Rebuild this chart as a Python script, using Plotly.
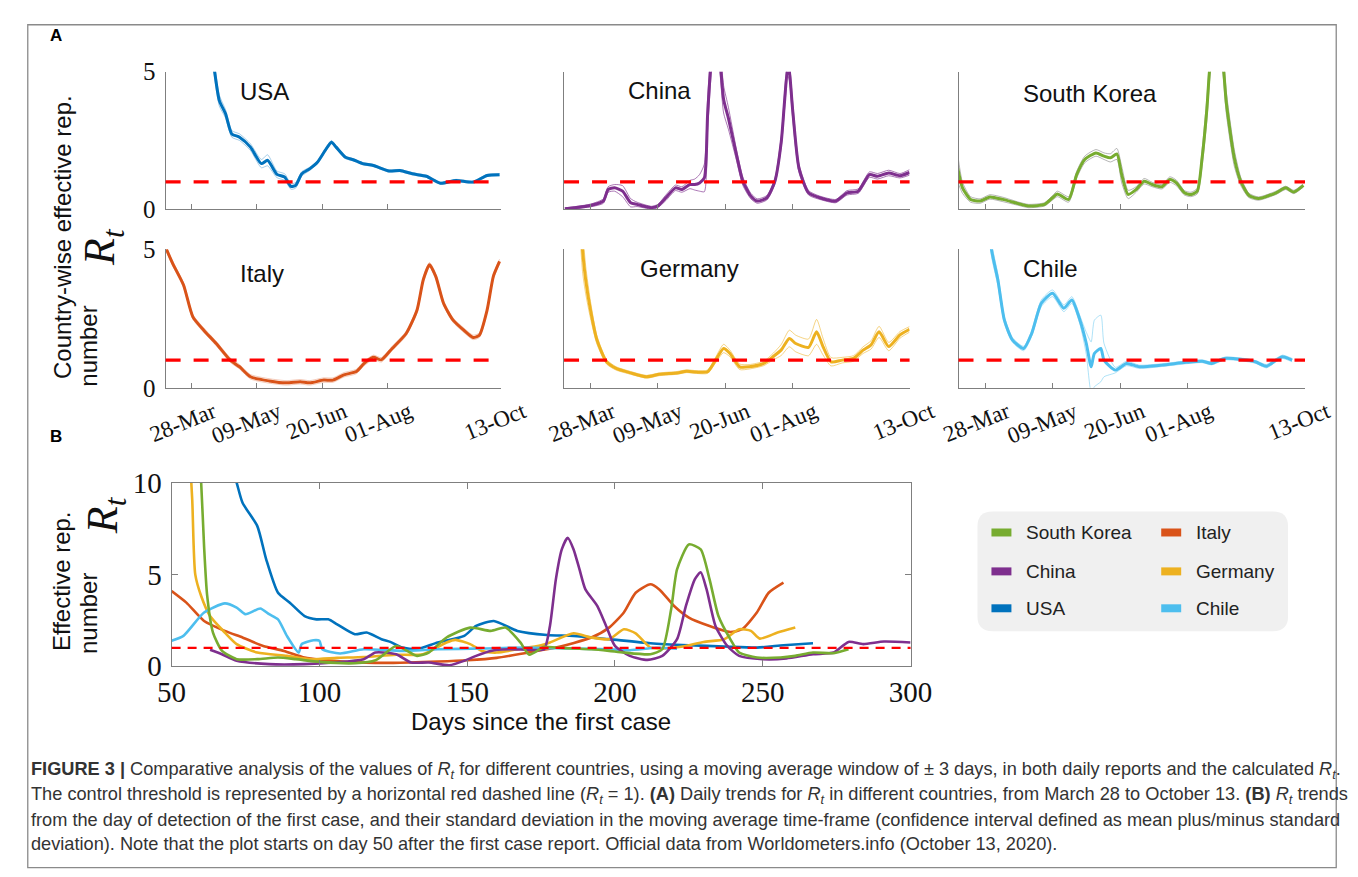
import pandas as pd
import plotly.graph_objects as go

W, H = 1358, 877
START = pd.Timestamp("2020-03-28")
THRESHOLD = 1.0

COLORS = {
    "USA": "#0072BD", "Italy": "#D95319", "Germany": "#EDB120",
    "China": "#7E2F8E", "South Korea": "#77AC30", "Chile": "#4DBEEE",
}
BAND = {
    "USA": "rgba(0,114,189,0.35)", "Italy": "rgba(217,83,25,0.30)",
    "Germany": "rgba(237,177,32,0.55)", "China": "rgba(126,47,142,0.65)",
    "South Korea": "rgba(120,120,120,0.55)", "Chile": "rgba(77,190,238,0.45)",
}

# ---------------- Panel A data (days after 28-Mar-2020) ----------------
usa_day = [12, 15, 18, 22, 26, 31, 38, 45, 49, 55, 60, 64, 67, 71, 76, 81, 86, 90, 93, 99,
           104, 110, 117, 127, 134, 142, 151, 160, 170, 181, 190, 198]
usa_rt = [6.5, 5.0, 3.95, 3.47, 2.74, 2.62, 2.26, 1.66, 1.78, 1.27, 1.17, 0.83, 0.87, 1.29, 1.47,
          1.71, 2.14, 2.44, 2.26, 1.89, 1.80, 1.66, 1.59, 1.39, 1.41, 1.29, 1.20, 0.95, 1.05, 0.99,
          1.23, 1.26]
usa_sd = [0.3, 0.25, 0.2, 0.15, 0.12, 0.12, 0.12, 0.15, 0.2, 0.12, 0.12, 0.1, 0.1, 0.08, 0.06,
          0.05, 0.06, 0.06, 0.06, 0.05, 0.04, 0.04, 0.04, 0.04, 0.04, 0.04, 0.04, 0.04, 0.04, 0.04,
          0.04, 0.04]

china_day = [-16, 0, 8, 11, 15, 20, 25, 29, 38, 42, 47, 53, 57, 62, 65, 68, 71, 73, 75, 78,
             81, 83, 86, 91, 95, 100, 104, 110, 115, 119, 121, 123, 124, 126, 130, 136, 143, 153,
             160, 167, 174, 179, 186, 193, 199]
china_rt = [0.02, 0.14, 0.30, 0.72, 0.78, 0.66, 0.24, 0.18, 0.06, 0.12, 0.42, 0.78, 0.72, 0.90,
            0.90, 0.96, 1.14, 3.40, 5.20, 7.00, 5.30, 4.00, 3.31, 1.99, 1.02, 0.48, 0.30, 0.42,
            1.02, 2.47, 3.90, 5.15, 5.00, 3.67, 1.50, 0.60, 0.42, 0.30, 0.60, 0.66, 1.26, 1.20,
            1.32, 1.22, 1.34]
china_sd = [0.03, 0.05, 0.08, 0.1, 0.12, 0.2, 0.15, 0.08, 0.05, 0.06, 0.1, 0.1, 0.1, 0.15, 0.2,
            0.3, 0.5, 0.6, 0.5, 0.5, 0.5, 0.5, 0.4, 0.2, 0.15, 0.1, 0.08, 0.08, 0.1, 0.2, 0.3,
            0.3, 0.3, 0.3, 0.15, 0.08, 0.06, 0.06, 0.08, 0.08, 0.1, 0.1, 0.1, 0.08, 0.1]

korea_day = [-17, -14, -9, -3, 3, 11, 21, 27, 37, 42, 45, 52, 57, 62, 69, 74, 78, 82, 85, 89,
             94, 99, 104, 110, 115, 119, 124, 128, 132, 135, 138, 140, 144, 148, 150, 155, 159,
             164, 170, 181, 187, 192, 198]
korea_rt = [1.50, 0.78, 0.36, 0.30, 0.45, 0.36, 0.20, 0.12, 0.18, 0.42, 0.56, 0.36, 1.26, 1.81,
            2.05, 1.93, 1.87, 2.01, 1.26, 0.54, 0.72, 1.02, 0.90, 0.82, 1.08, 0.96, 0.60, 0.54,
            0.66, 1.87, 3.67, 5.30, 6.70, 5.30, 3.90, 1.87, 1.02, 0.51, 0.39, 0.60, 0.78, 0.63,
            0.87]
korea_sd = [0.5, 0.2, 0.1, 0.08, 0.08, 0.08, 0.06, 0.06, 0.06, 0.08, 0.1, 0.1, 0.12, 0.12, 0.12,
            0.12, 0.15, 0.2, 0.3, 0.15, 0.1, 0.1, 0.08, 0.08, 0.1, 0.1, 0.08, 0.08, 0.1, 0.3, 0.4,
            0.4, 0.4, 0.4, 0.4, 0.3, 0.15, 0.08, 0.06, 0.06, 0.06, 0.06, 0.06]

italy_day = [-16, -12, -5, 1, 8, 16, 25, 31, 38, 50, 61, 70, 76, 85, 91, 98, 106, 111, 117, 122,
             129, 138, 145, 149, 153, 157, 162, 168, 175, 181, 185, 190, 194, 198]
italy_rt = [5.0, 4.49, 3.71, 2.56, 2.08, 1.60, 1.00, 0.76, 0.40, 0.25, 0.18, 0.22, 0.18, 0.28,
            0.28, 0.47, 0.59, 0.88, 1.10, 1.01, 1.42, 1.96, 2.81, 3.90, 4.44, 4.02, 3.05, 2.45,
            2.08, 1.82, 1.90, 2.81, 4.02, 4.56]
italy_sd = [0.08] * len(italy_day)

germany_day = [-8, -5, -3, 0, 4, 10, 16, 25, 35, 43, 54, 60, 66, 73, 78, 83, 87, 93, 99, 108,
               114, 119, 124, 128, 136, 141, 145, 150, 157, 164, 170, 175, 180, 186, 193, 199]
germany_rt = [8.0, 5.0, 3.89, 2.81, 1.73, 0.94, 0.70, 0.54, 0.40, 0.49, 0.54, 0.60, 0.57, 0.58,
              1.00, 1.42, 1.24, 0.76, 0.76, 0.88, 1.13, 1.37, 1.78, 1.60, 1.46, 2.02, 1.49, 0.94,
              1.00, 1.06, 1.36, 1.55, 2.02, 1.49, 1.91, 2.11]
germany_sd = [1.0, 0.8, 0.5, 0.3, 0.15, 0.08, 0.06, 0.05, 0.05, 0.05, 0.05, 0.05, 0.05, 0.06,
              0.1, 0.15, 0.12, 0.1, 0.08, 0.08, 0.12, 0.2, 0.3, 0.3, 0.3, 0.45, 0.3, 0.15, 0.1,
              0.1, 0.12, 0.15, 0.2, 0.15, 0.12, 0.1]

chile_day = [2, 4, 8, 12, 17, 24, 29, 35, 42, 49, 54, 59, 63, 66, 68, 72, 74, 81, 88, 96, 110,
             125, 135, 141, 149, 160, 168, 175, 181, 185, 191]
chile_rt = [6.5, 5.0, 3.89, 2.45, 1.73, 1.42, 1.96, 3.05, 3.41, 2.87, 3.17, 2.45, 1.60, 0.76,
            1.24, 1.42, 1.00, 0.64, 0.88, 0.76, 0.82, 0.92, 0.96, 0.88, 1.06, 1.02, 0.94, 0.78,
            1.00, 1.12, 1.00]
chile_sd = [0.3, 0.25, 0.2, 0.12, 0.08, 0.08, 0.1, 0.12, 0.12, 0.12, 0.12, 0.15, 0.4, 0.9, 1.2,
            1.2, 0.6, 0.1, 0.08, 0.06, 0.05, 0.05, 0.05, 0.05, 0.05, 0.05, 0.05, 0.06, 0.06, 0.06,
            0.06]

A_TICKS = ["2020-03-28", "2020-05-09", "2020-06-20", "2020-08-01", "2020-10-13"]
A_RANGE = ["2020-03-11 12:00", "2020-10-13"]

# ---------------- Panel B data (days since first case) ----------------
usa_b_day = [69, 72, 74, 79, 82, 86, 90, 95, 99, 103, 106, 112, 116, 121, 124, 128, 133, 140,
             149, 153, 159, 167, 177, 186, 198, 212, 225, 237, 248, 257, 267]
usa_b_rt = [11.5, 10.0, 8.9, 7.63, 5.82, 4.0, 3.46, 2.73, 2.55, 2.55, 2.28, 1.74, 1.83, 1.47,
            1.32, 1.01, 0.92, 1.29, 1.65, 2.19, 2.46, 1.92, 1.70, 1.65, 1.47, 1.25, 1.14, 1.07,
            1.01, 1.14, 1.25]

italy_b_day = [50, 55, 61, 68, 74, 81, 88, 95, 101, 110, 125, 140, 150, 160, 171, 180, 192, 198,
               203, 207, 212, 215, 220, 225, 232, 239, 243, 248, 252, 257]
italy_b_rt = [4.09, 3.46, 2.46, 1.92, 1.56, 1.10, 0.83, 0.47, 0.34, 0.22, 0.18, 0.25, 0.32, 0.45,
              0.75, 1.01, 1.56, 2.10, 2.92, 4.0, 4.46, 4.18, 3.28, 2.65, 2.19, 1.86, 2.01, 2.92,
              4.0, 4.55]

germany_b_day = [56, 57, 58, 60, 63, 68, 72, 79, 89, 97, 106, 115, 126, 135, 143, 146, 151, 155,
                 160, 167, 175, 178, 186, 192, 198, 203, 207, 212, 216, 223, 230, 237, 242, 246,
                 249, 255, 261]
germany_b_rt = [12.0, 9.0, 5.0, 3.82, 2.73, 1.83, 1.20, 0.74, 0.56, 0.38, 0.45, 0.50, 0.62, 0.65,
                1.29, 1.43, 1.20, 0.83, 0.74, 0.92, 1.14, 1.29, 1.79, 1.56, 1.47, 2.01, 1.79,
                1.01, 0.96, 1.07, 1.32, 1.47, 2.01, 1.92, 1.50, 1.83, 2.10]

korea_b_day = [59, 60, 61, 62, 64, 67, 72, 79, 86, 92, 100, 112, 119, 126, 133, 137, 143, 151,
               158, 163, 168, 171, 176, 180, 186, 192, 198, 203, 212, 216, 219, 221, 225, 229,
               232, 235, 239, 242, 248, 256, 261, 267, 274, 279]
korea_b_rt = [12.0, 10.0, 6.5, 3.9, 1.83, 0.85, 0.38, 0.38, 0.47, 0.38, 0.23, 0.16, 0.32, 1.10,
              0.56, 0.74, 1.56, 2.10, 1.92, 2.10, 1.29, 0.62, 1.05, 1.01, 0.96, 0.92, 0.83, 0.74,
              0.65, 0.92, 3.10, 5.27, 6.63, 6.36, 4.73, 2.73, 1.47, 0.74, 0.47, 0.47, 0.56, 0.74,
              0.71, 0.92]

china_b_day = [63, 67, 72, 83, 95, 105, 115, 119, 126, 131, 137, 144, 149, 153, 158, 164, 171,
               176, 178, 180, 182, 184, 186, 188, 190, 194, 197, 200, 205, 211, 216, 221, 224,
               227, 229, 231, 234, 238, 242, 250, 258, 267, 274, 279, 284, 291, 300]
china_b_rt = [0.89, 0.65, 0.29, 0.11, 0.11, 0.20, 0.38, 0.74, 0.65, 0.20, 0.20, 0.05, 0.29, 0.56,
              0.83, 0.92, 0.89, 0.92, 2.19, 4.73, 6.36, 7.00, 6.36, 5.27, 4.18, 3.28, 2.19, 1.10,
              0.56, 0.34, 0.56, 1.47, 3.28, 4.73, 5.12, 4.18, 2.19, 1.10, 0.56, 0.38, 0.42, 0.65,
              0.74, 1.32, 1.20, 1.34, 1.29]

chile_b_day = [50, 54, 61, 68, 72, 75, 80, 83, 86, 89, 93, 94, 98, 100, 101, 107, 115, 128, 140,
               155, 169, 185, 198, 205, 214, 221]
chile_b_rt = [1.38, 1.65, 2.92, 3.42, 3.19, 2.83, 3.14, 2.83, 2.55, 1.65, 0.74, 1.20, 1.41, 1.38,
              0.92, 0.69, 0.92, 0.83, 0.92, 0.96, 1.01, 0.96, 0.92, 0.87, 1.00, 0.95]

B_TICKS = [50, 100, 150, 200, 250, 300]

# ---------------- layout helpers ----------------
# The page is photographed with a small uniform shrink + offset; positions below are
# given in reference-picture pixels and mapped back into figure pixels.
S, O = 0.966, 23.2


def X(p):
    return (p - O) / S / W


def Y(p):
    return 1 - (p - O) / S / H


SERIF = "Liberation Serif, DejaVu Serif, serif"
SANS = "Liberation Sans, Arial, sans-serif"
AXIS_GRAY = "#7f7f7f"

col_px = [(162, 498), (561, 907), (956, 1303)]
row_px = [(71, 209), (249, 388)]

panel_a = [
    ("USA", usa_day, usa_rt, usa_sd, 0, 0, (234, 91)),
    ("China", china_day, china_rt, china_sd, 0, 1, (623, 90)),
    ("South Korea", korea_day, korea_rt, korea_sd, 0, 2, (1019, 93)),
    ("Italy", italy_day, italy_rt, italy_sd, 1, 0, (234, 273)),
    ("Germany", germany_day, germany_rt, germany_sd, 1, 1, (635, 268)),
    ("Chile", chile_day, chile_rt, chile_sd, 1, 2, (1019, 268)),
]

fig = go.Figure()
layout = {}
shapes = []
annotations = []

for i, (name, days, rt, sd, r, c, lab) in enumerate(panel_a):
    n = i + 1
    xa = "x" if n == 1 else f"x{n}"
    ya = "y" if n == 1 else f"y{n}"
    dates = [START + pd.Timedelta(days=d) for d in days]
    upper = [v + s for v, s in zip(rt, sd)]
    lower = [v - s for v, s in zip(rt, sd)]
    for band in (upper, lower):
        fig.add_trace(go.Scatter(x=dates, y=band, mode="lines", xaxis=xa, yaxis=ya,
                                 line=dict(color=BAND[name], width=1, shape="spline", smoothing=0.6),
                                 hoverinfo="skip", showlegend=False))
    fig.add_trace(go.Scatter(x=dates, y=rt, mode="lines", xaxis=xa, yaxis=ya, name=name,
                             line=dict(color=COLORS[name], width=3, shape="spline", smoothing=0.6),
                             showlegend=False))
    x0, x1 = col_px[c]
    y0, y1 = row_px[r]
    layout["xaxis" if n == 1 else f"xaxis{n}"] = dict(
        domain=[X(x0), X(x1)], anchor=ya, type="date", range=A_RANGE,
        tickvals=A_TICKS, tickformat="%d-%b", ticks="inside", ticklen=5, tickcolor=AXIS_GRAY,
        showline=True, linecolor=AXIS_GRAY, linewidth=1, showgrid=False, zeroline=False,
        showticklabels=(r == 1), tickangle=-22, ticklabelshift=22, ticklabelstandoff=1,
        tickfont=dict(family=SERIF, size=23, color="#111"),
    )
    layout["yaxis" if n == 1 else f"yaxis{n}"] = dict(
        domain=[Y(y1), Y(y0)], anchor=xa, range=[0, 5], tickvals=[0, 5],
        ticks="inside", ticklen=4, tickcolor=AXIS_GRAY, showline=True, linecolor=AXIS_GRAY,
        linewidth=1, showgrid=False, zeroline=False, showticklabels=(c == 0),
        ticklabelstandoff=4, tickfont=dict(family=SERIF, size=25, color="#111"),
    )
    shapes.append(dict(type="line", xref=f"{xa} domain", yref=ya, x0=0, x1=1,
                       y0=THRESHOLD, y1=THRESHOLD, layer="above",
                       line=dict(color="#ff0000", width=3.2, dash="15px,13px")))
    annotations.append(dict(text=name, xref="paper", yref="paper", x=X(lab[0]), y=Y(lab[1]),
                            xanchor="left", yanchor="middle", showarrow=False,
                            font=dict(family=SANS, size=24, color="#111")))

# ---------------- Panel B ----------------
panel_b = [
    ("USA", usa_b_day, usa_b_rt),
    ("Italy", italy_b_day, italy_b_rt),
    ("Germany", germany_b_day, germany_b_rt),
    ("Chile", chile_b_day, chile_b_rt),
    ("China", china_b_day, china_b_rt),
    ("South Korea", korea_b_day, korea_b_rt),
]
for name, days, rt in panel_b:
    fig.add_trace(go.Scatter(x=days, y=rt, mode="lines", xaxis="x7", yaxis="y7", name=name,
                             line=dict(color=COLORS[name], width=2.6, shape="spline", smoothing=0.6),
                             showlegend=False))

layout["xaxis7"] = dict(
    domain=[X(168), X(908)], anchor="y7", range=[50, 300], tickvals=B_TICKS,
    ticks="inside", ticklen=6, tickcolor=AXIS_GRAY, showline=True, linecolor=AXIS_GRAY,
    linewidth=1, mirror="ticks", showgrid=False, zeroline=False, ticklabelstandoff=0,
    tickfont=dict(family=SERIF, size=29, color="#111"),
    title=dict(text="Days since the first case", standoff=0,
               font=dict(family=SANS, size=24, color="#111")),
)
layout["yaxis7"] = dict(
    domain=[Y(667), Y(483)], anchor="x7", range=[0, 10], tickvals=[0, 5, 10],
    ticks="inside", ticklen=6, tickcolor=AXIS_GRAY, showline=True, linecolor=AXIS_GRAY,
    linewidth=1, mirror="ticks", showgrid=False, zeroline=False, ticklabelstandoff=3,
    tickfont=dict(family=SERIF, size=29, color="#111"),
)
shapes.append(dict(type="line", xref="x7 domain", yref="y7", x0=0, x1=1,
                   y0=THRESHOLD, y1=THRESHOLD, layer="above",
                   line=dict(color="#ff0000", width=2.2, dash="9px,7px")))

# ---------------- y-axis titles ----------------
RT = "<i>R</i><sub><i>t</i></sub>"
ytitles = [
    ("Country-wise effective rep.", 58, 237, SANS, 24),
    ("number", 85, 346, SANS, 24),
    (RT, 99, 247, SERIF, 44),
    ("Effective rep.", 58, 582, SANS, 24),
    ("number", 85, 614, SANS, 24),
    (RT, 102, 516, SERIF, 44),
]
for txt, xp, yp, fam, sz in ytitles:
    annotations.append(dict(text=txt, xref="paper", yref="paper", x=X(xp), y=Y(yp),
                            xanchor="center", yanchor="middle", textangle=-90, showarrow=False,
                            font=dict(family=fam, size=sz, color="#111")))

# panel letters
for letter, xp, yp in (("A", 52, 35), ("B", 52, 437)):
    annotations.append(dict(text=f"<b>{letter}</b>", xref="paper", yref="paper", x=X(xp), y=Y(yp),
                            xanchor="center", yanchor="middle", showarrow=False,
                            font=dict(family=SANS, size=17, color="#000")))

# ---------------- legend (drawn) ----------------
legend_order = ["South Korea", "Italy", "China", "Germany", "USA", "Chile"]


def rounded_rect(x0, y0, x1, y1, r):
    return (f"M {X(x0 + r)},{Y(y0)} L {X(x1 - r)},{Y(y0)} Q {X(x1)},{Y(y0)} {X(x1)},{Y(y0 + r)} "
            f"L {X(x1)},{Y(y1 - r)} Q {X(x1)},{Y(y1)} {X(x1 - r)},{Y(y1)} "
            f"L {X(x0 + r)},{Y(y1)} Q {X(x0)},{Y(y1)} {X(x0)},{Y(y1 - r)} "
            f"L {X(x0)},{Y(y0 + r)} Q {X(x0)},{Y(y0)} {X(x0 + r)},{Y(y0)} Z")


shapes.append(dict(type="path", xref="paper", yref="paper", path=rounded_rect(975, 512, 1286, 632, 15),
                   fillcolor="#f0f0f0", line=dict(width=0), layer="below"))
row_y = [533, 572, 609]
sw_x = [989, 1159]
lab_x = [1022, 1192]
for k, name in enumerate(legend_order):
    rr, cc = k // 2, k % 2
    shapes.append(dict(type="rect", xref="paper", yref="paper",
                       x0=X(sw_x[cc]), x1=X(sw_x[cc] + 20), y0=Y(row_y[rr] + 4), y1=Y(row_y[rr] - 4),
                       fillcolor=COLORS[name], line=dict(width=0)))
    annotations.append(dict(text=name, xref="paper", yref="paper", x=X(lab_x[cc]), y=Y(row_y[rr]),
                            xanchor="left", yanchor="middle", showarrow=False,
                            font=dict(family=SANS, size=19, color="#222")))

# ---------------- caption ----------------
caption = [
    "<b>FIGURE 3 |</b> Comparative analysis of the values of " + RT +
    " for different countries, using a moving average window of ± 3 days, in both daily reports and the calculated " + RT + ".",
    "The control threshold is represented by a horizontal red dashed line (" + RT + " = 1). <b>(A)</b> Daily trends for " + RT +
    " in different countries, from March 28 to October 13. <b>(B)</b> " + RT + " trends",
    "from the day of detection of the first case, and their standard deviation in the moving average time-frame (confidence interval defined as mean plus/minus standard",
    "deviation). Note that the plot starts on day 50 after the first case report. Official data from Worldometers.info (October 13, 2020).",
]
cap_y = [772, 797, 821, 845]
for txt, yp in zip(caption, cap_y):
    annotations.append(dict(text=txt, xref="paper", yref="paper", x=2 / W, y=Y(yp),
                            xanchor="left", yanchor="middle", showarrow=False,
                            font=dict(family=SANS, size=18.2, color="#333")))

# outer border (at the figure edges)
shapes.append(dict(type="rect", xref="paper", yref="paper", x0=0.8 / W, x1=1 - 0.8 / W,
                   y0=Y(869), y1=1 - 0.8 / H,
                   line=dict(color="#8a8a8a", width=1.3), fillcolor="rgba(0,0,0,0)", layer="below"))

fig.update_layout(
    width=W, height=H, margin=dict(l=0, r=0, t=0, b=0),
    paper_bgcolor="white", plot_bgcolor="rgba(0,0,0,0)", showlegend=False,
    shapes=shapes, annotations=annotations, **layout,
)
fig.write_html("out.html")
